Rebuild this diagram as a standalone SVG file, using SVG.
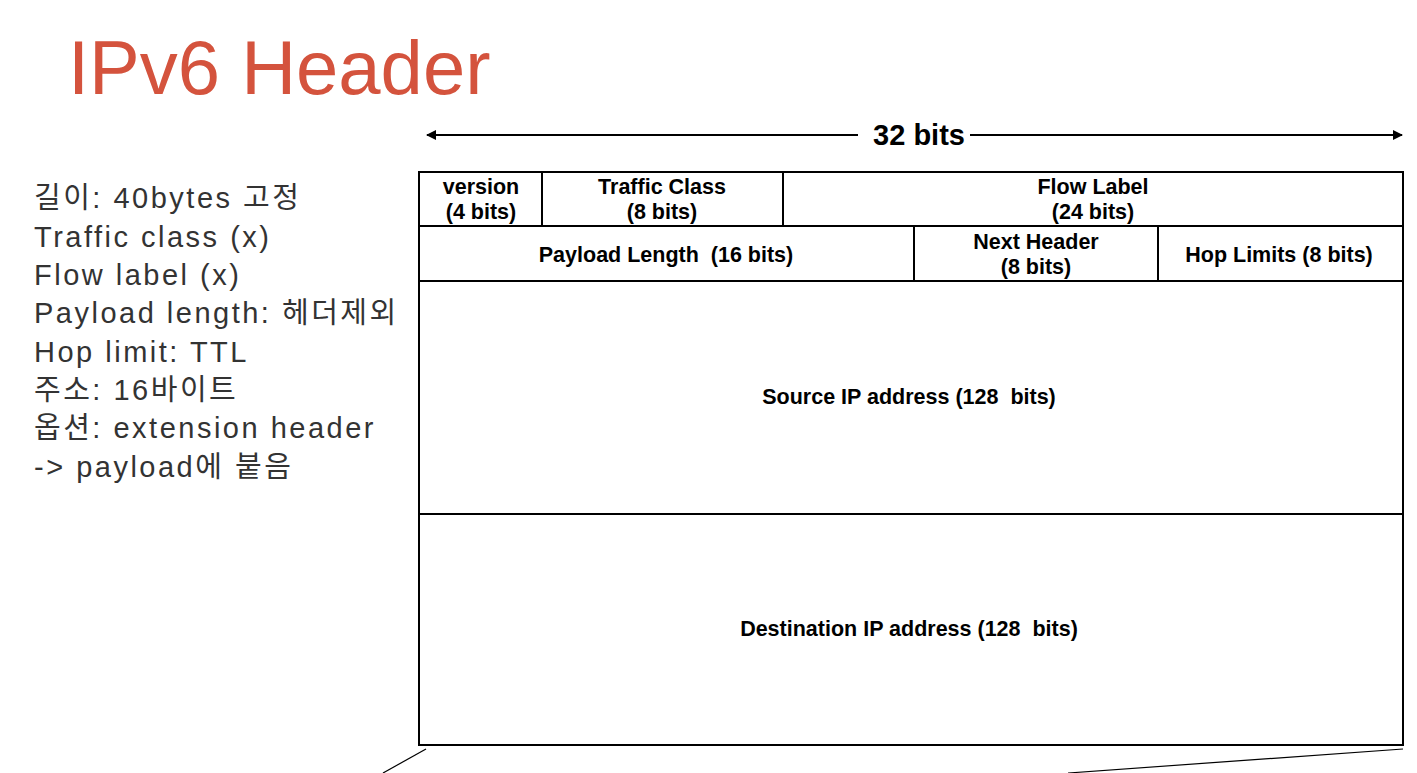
<svg xmlns="http://www.w3.org/2000/svg" width="1417" height="773" viewBox="0 0 1417 773">
<style>
.cell{fill:#fff;stroke:#000;stroke-width:2}
.lbl{font-family:"Liberation Sans",Arial,sans-serif;font-weight:bold;font-size:21.5px;fill:#000;text-anchor:middle}
.note{font-family:"Liberation Sans","Noto Sans CJK KR",sans-serif;font-size:29px;fill:#333;letter-spacing:2.5px}
.ln{stroke:#000;stroke-width:2;fill:none}
</style>
<defs>
<marker id="ah" markerWidth="10" markerHeight="10" refX="9" refY="5" orient="auto-start-reverse" markerUnits="userSpaceOnUse">
<path d="M0,0 L10,5 L0,10 Z" fill="#000"/>
</marker>
</defs>
<rect width="1417" height="773" fill="#fff"/>
<text id="title" x="68" y="94" font-family="Liberation Sans,Arial,sans-serif" font-size="76" fill="#D4533D">IPv6 Header</text>
<g id="notes" class="note">
<text x="34" y="208" class="note">길이: 40bytes 고정</text>
<text x="34" y="247" class="note">Traffic class (x)</text>
<text x="34" y="285" class="note">Flow label (x)</text>
<text x="34" y="323" class="note">Payload length: 헤더제외</text>
<text x="34" y="362" class="note">Hop limit: TTL</text>
<text x="34" y="400" class="note">주소: 16바이트</text>
<text x="34" y="438" class="note">옵션: extension header</text>
<text x="34" y="477" class="note">-&gt; payload에 붙음</text>
</g>
<g id="connectors">
<line class="ln" x1="427" y1="135" x2="858" y2="135" marker-start="url(#ah)"/>
<line class="ln" x1="970" y1="135" x2="1402" y2="135" marker-end="url(#ah)"/>
<line x1="426" y1="749" x2="383" y2="773" stroke="#000" stroke-width="1.2"/>
<line x1="1403" y1="749" x2="1068" y2="773" stroke="#000" stroke-width="1.2"/>
</g>
<text id="width-label" x="919" y="145" font-family="Liberation Sans,Arial,sans-serif" font-weight="bold" font-size="29" text-anchor="middle">32 bits</text>
<g id="version"><rect class="cell" x="419" y="172" width="123" height="54"/><text class="lbl" x="481" y="194">version</text><text class="lbl" x="481" y="219">(4 bits)</text></g>
<g id="traffic-class"><rect class="cell" x="542" y="172" width="241" height="54"/><text class="lbl" x="662" y="194">Traffic Class</text><text class="lbl" x="662" y="219">(8 bits)</text></g>
<g id="flow-label"><rect class="cell" x="783" y="172" width="620" height="54"/><text class="lbl" x="1093" y="194">Flow Label</text><text class="lbl" x="1093" y="219">(24 bits)</text></g>
<g id="payload-length"><rect class="cell" x="419" y="226" width="495" height="55"/><text class="lbl" x="666" y="262" xml:space="preserve">Payload Length  (16 bits)</text></g>
<g id="next-header"><rect class="cell" x="914" y="226" width="244" height="55"/><text class="lbl" x="1036" y="249">Next Header</text><text class="lbl" x="1036" y="274">(8 bits)</text></g>
<g id="hop-limits"><rect class="cell" x="1158" y="226" width="245" height="55"/><text class="lbl" x="1279" y="262">Hop Limits (8 bits)</text></g>
<g id="source"><rect class="cell" x="419" y="281" width="984" height="233"/><text class="lbl" x="909" y="404" xml:space="preserve">Source IP address (128  bits)</text></g>
<g id="destination"><rect class="cell" x="419" y="514" width="984" height="231"/><text class="lbl" x="909" y="636" xml:space="preserve">Destination IP address (128  bits)</text></g>
</svg>
